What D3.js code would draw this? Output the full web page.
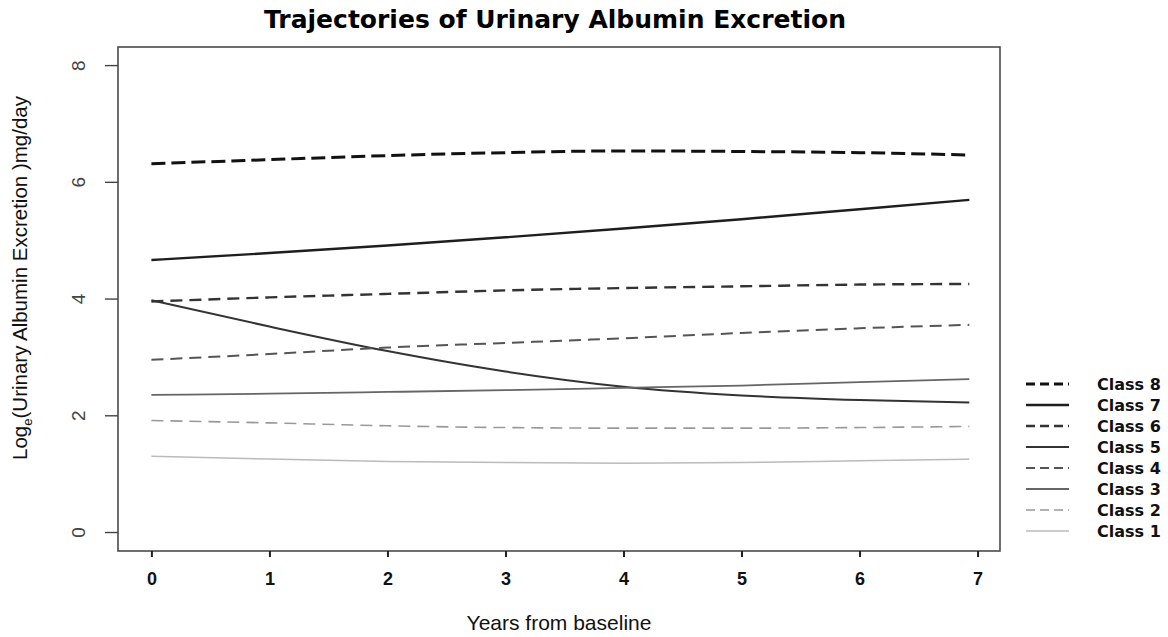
<!DOCTYPE html>
<html>
<head>
<meta charset="utf-8">
<script src="https://cdn.jsdelivr.net/npm/d3@7"></script>
<style>
  body { margin: 0; background: #fff; }
  svg { display: block; font-family: "Liberation Sans", Arial, sans-serif; }
</style>
</head>
<body>
<script>
// data ---------------------------------------------------
var years = [0, 1, 2, 3, 4, 5, 6, 6.93];

var class8 = [6.31, 6.38, 6.45, 6.50, 6.53, 6.52, 6.50, 6.46];
var class7 = [4.66, 4.78, 4.91, 5.05, 5.20, 5.36, 5.53, 5.69];
var class6 = [3.95, 4.02, 4.08, 4.14, 4.18, 4.21, 4.24, 4.25];
var class5 = [3.97, 3.52, 3.10, 2.75, 2.49, 2.34, 2.26, 2.22];
var class4 = [2.95, 3.05, 3.16, 3.24, 3.32, 3.41, 3.49, 3.55];
var class3 = [2.35, 2.37, 2.40, 2.43, 2.47, 2.51, 2.57, 2.62];
var class2 = [1.91, 1.87, 1.82, 1.79, 1.78, 1.78, 1.79, 1.81];
var class1 = [1.30, 1.25, 1.21, 1.19, 1.18, 1.19, 1.22, 1.25];

var classNames = ['Class 8', 'Class 7', 'Class 6', 'Class 5', 'Class 4', 'Class 3', 'Class 2', 'Class 1'];
var xTicks = [0, 1, 2, 3, 4, 5, 6, 7];
var yTicks = [0, 2, 4, 6, 8];

// line looks, same order as classNames
var looks = [
  { color: '#111', width: 3, dash: '14,6' },
  { color: '#1e1e1e', width: 2.4, dash: null },
  { color: '#333', width: 2.4, dash: '12,7' },
  { color: '#333', width: 2, dash: null },
  { color: '#555', width: 2, dash: '12,7' },
  { color: '#666', width: 1.8, dash: null },
  { color: '#999', width: 1.6, dash: '12,7' },
  { color: '#bbb', width: 1.5, dash: null }
];

var series = [class8, class7, class6, class5, class4, class3, class2, class1];

// layout ---------------------------------------------------
var W = 1168, H = 637;
var box = { left: 118, right: 1000, top: 47, bottom: 551 };

var svg = d3.select('body').append('svg')
  .attr('width', W)
  .attr('height', H);

var x = d3.scaleLinear().domain([-0.283, 7.19]).range([box.left, box.right]);
var y = d3.scaleLinear().domain([-0.325, 8.31]).range([box.bottom, box.top]);

// plot frame
svg.append('rect')
  .attr('x', box.left)
  .attr('y', box.top)
  .attr('width', box.right - box.left)
  .attr('height', box.bottom - box.top)
  .attr('fill', 'none')
  .attr('stroke', '#4a4a4a')
  .attr('stroke-width', 1.6);

// x axis
var xAxis = svg.append('g')
  .attr('transform', 'translate(0,' + box.bottom + ')')
  .call(d3.axisBottom(x).tickValues(xTicks).tickSize(6).tickPadding(15).tickFormat(d3.format('d')));
xAxis.select('.domain').remove();
xAxis.selectAll('line').attr('stroke', '#222').attr('stroke-width', 2);
xAxis.selectAll('text')
  .attr('fill', '#111')
  .style('font-family', '"Liberation Sans Narrow", "Liberation Sans", sans-serif')
  .style('font-size', '18px')
  .style('font-weight', 'bold');

// y axis, labels turned like R does
var yAxis = svg.append('g')
  .attr('transform', 'translate(' + box.left + ',0)')
  .call(d3.axisLeft(y).tickValues(yTicks).tickSize(13).tickFormat(d3.format('d')));
yAxis.select('.domain').remove();
yAxis.selectAll('line').attr('stroke', '#444').attr('stroke-width', 1.4);
yAxis.selectAll('text')
  .attr('x', null)
  .attr('dy', null)
  .attr('text-anchor', 'middle')
  .attr('transform', 'translate(-40,0) rotate(-90) translate(0,7)')
  .attr('fill', '#444')
  .style('font-size', '19px');

// lines
var line = d3.line()
  .x(function(d, i) { return x(years[i]); })
  .y(function(d) { return y(d); })
  .curve(d3.curveMonotoneX);

svg.selectAll('path.traj')
  .data(series)
  .enter()
  .append('path')
  .attr('class', 'traj')
  .attr('d', line)
  .attr('fill', 'none')
  .attr('stroke', function(d, i) { return looks[i].color; })
  .attr('stroke-width', function(d, i) { return looks[i].width; })
  .attr('stroke-dasharray', function(d, i) { return looks[i].dash; });

// legend
var legY = d3.scaleLinear().domain([0, 7]).range([384, 531]);
var leg = svg.selectAll('g.leg')
  .data(classNames)
  .enter()
  .append('g')
  .attr('class', 'leg')
  .attr('transform', function(d, i) { return 'translate(0,' + legY(i) + ')'; });

leg.append('line')
  .attr('x1', 1026).attr('x2', 1069)
  .attr('stroke', function(d, i) { return looks[i].color; })
  .attr('stroke-width', function(d, i) { return looks[i].width; })
  .attr('stroke-dasharray', function(d, i) { return looks[i].dash ? '9,5' : null; });

leg.append('text')
  .attr('x', 1097)
  .attr('dy', '0.36em')
  .attr('fill', '#111')
  .style('font-family', '"DejaVu Sans", sans-serif')
  .style('font-size', '16px')
  .style('font-weight', 'bold')
  .text(function(d) { return d; });

// title and axis titles
svg.append('text')
  .attr('x', 555)
  .attr('y', 28)
  .attr('text-anchor', 'middle')
  .attr('fill', '#000')
  .style('font-family', '"DejaVu Sans", sans-serif')
  .style('font-size', '25px')
  .style('font-weight', 'bold')
  .text('Trajectories of Urinary Albumin Excretion');

svg.append('text')
  .attr('x', 559)
  .attr('y', 630)
  .attr('text-anchor', 'middle')
  .attr('fill', '#111')
  .style('font-size', '21px')
  .text('Years from baseline');

var yl = svg.append('text')
  .attr('transform', 'translate(27,278) rotate(-90)')
  .attr('text-anchor', 'middle')
  .attr('fill', '#111')
  .style('font-size', '20.5px');
yl.append('tspan').text('Log');
yl.append('tspan').attr('dy', 5).style('font-size', '13px').text('e');
yl.append('tspan').attr('dy', -5).text('(Urinary Albumin Excretion )mg/day');
</script>
</body>
</html>
